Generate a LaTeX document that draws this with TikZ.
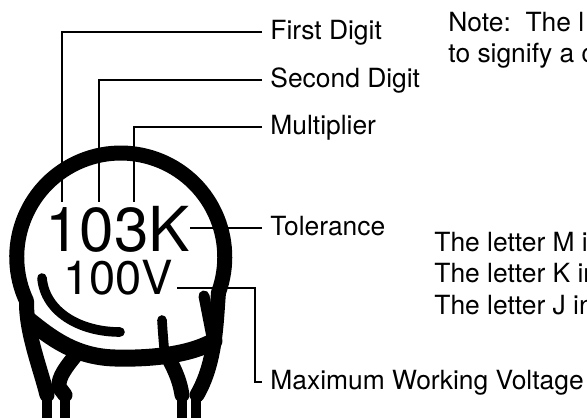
\documentclass[tikz,border=0pt]{standalone}
\usepackage{fontspec}
\setmainfont{TeX Gyre Heros}
\usetikzlibrary{positioning}

\begin{document}
\begin{tikzpicture}[
		x=0.5pt, y=0.5pt,
		body/.style={
			line width=7.5pt,
			line cap=round,
			line join=round
		},
		thin body/.style={body, line width=4.8pt},
		wire/.style={line width=5pt},
		leader/.style={line width=1.2pt},
		lbl/.style={
			anchor=west,
			inner xsep=4pt,
			inner ysep=0pt,
			text height=0.72em,
			text depth=0pt,
			font=\fontsize{13.2}{15}\selectfont
		},
		txt/.style={
			anchor=base west,
			inner sep=0pt,
			font=\fontsize{13.2}{15}\selectfont
		},
		marking/.style={
			anchor=base,
			inner sep=0pt,
			text height=0.7em,
			text depth=0pt
		}
		]
		
		\useasboundingbox (0,0) rectangle (587,417);
		\clip (0,0) rectangle (587,417);
		
		% Disc outline running into both legs
		\draw[body] (47,22) .. controls (40,50) and (26,85) .. (26.5,116)
			arc[start angle=205, end angle=-20, radius=104]
			.. controls (216,95) and (216,55) .. (197,22);
		\draw[body, line width=5.5pt] (204,121) -- (212,80);
		
		% Bottom edge and inner leg edges
		\draw[body, line width=8.5pt] (30,96) .. controls (50,80) and (75,60) .. (115,59)
			.. controls (150,58) and (190,62) .. (214,76);
		\draw[body] (79,66) .. controls (66,50) and (58,40) .. (59,30) -- (65,22);
		\draw[body] (168,60) .. controls (176,45) and (180,35) .. (182,22);
		
		% Highlight and stub
		\draw[thin body] (42,139) .. controls (45,105) and (80,85) .. (120,85);
		\draw[thin body] (162,97) .. controls (163,80) and (164,70) .. (165,60);
		
		% Leads
		\foreach \x in {47,65,182,196}
		\draw[wire] (\x,22) -- (\x,-5);
		
		% Markings on the disc
		\node[marking, font=\fontsize{31}{31}\selectfont] (code) at (117.5,165) {103K};
		\node[marking, font=\fontsize{23.5}{24}\selectfont] (volt) at (118,122) {100V};
		
		% Labels
		\node[lbl] (first) at (262,385) {First Digit};
		\node[lbl] (second) at (262,337) {Second Digit};
		\node[lbl] (mult) at (262,290) {Multiplier};
		\node[lbl] (tol) at (262,189) {Tolerance};
		\node[lbl] (maxv) at (262,35) {Maximum Working Voltage};
		
		\coordinate (d1) at (62,215);
		\coordinate (d2) at (99,215);
		\coordinate (d3) at (134,215);
		\coordinate (vbend) at (255,0);
		
		% Leader lines
		\draw[leader] (first.west) -| (d1);
		\draw[leader] (second.west) -| (d2);
		\draw[leader] (mult.west) -| (d3);
		\draw[leader] (tol.west) -- (tol.west -| code.east);
		\draw[leader] ([xshift=2pt]volt.east) -- (volt.east -| vbend) |- (maxv.west);
		
		% Notes
		\node[txt] (note1) at (448,385) {Note:\ \ The l};
		\node[txt] (note2) at (448,354) {to signify a c};
		\foreach \n/\y/\t in {1/165/{The letter M i},2/134/{The letter K in},3/103/{The letter J in}}
		\node[txt] (letter\n) at (434,\y) {\t};
		
	\end{tikzpicture}
\end{document}
